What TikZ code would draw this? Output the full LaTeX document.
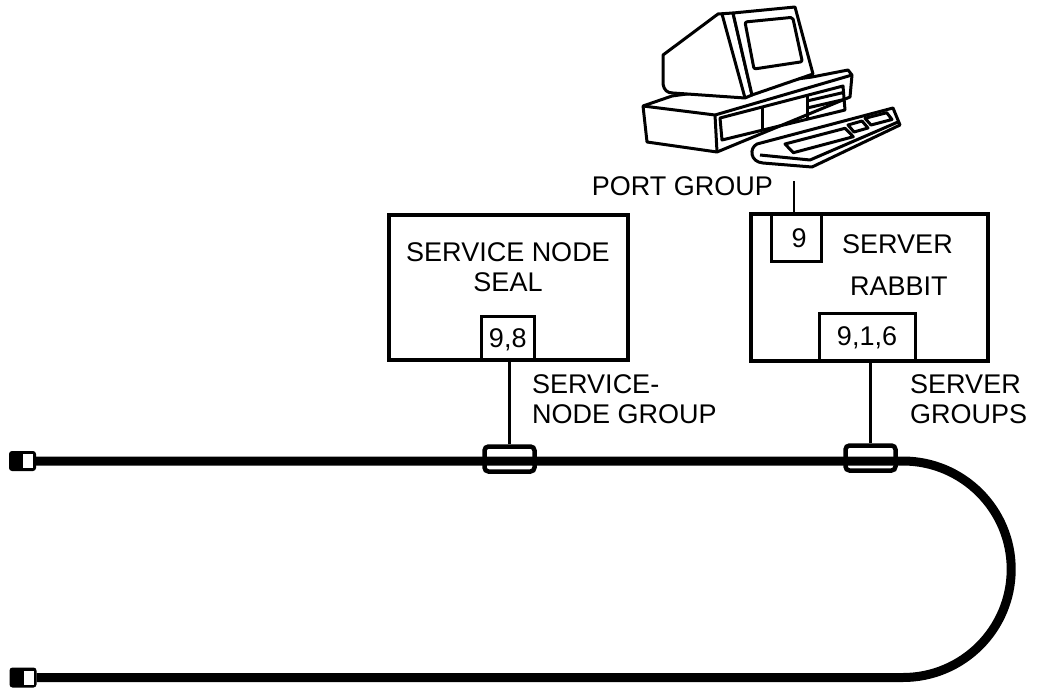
\documentclass[tikz,border=0pt]{standalone}
\usepackage{fontspec}
\setmainfont{Liberation Sans}
\begin{document}
\begin{tikzpicture}[x=1pt,y=-1pt,
  lbl/.style={font=\fontsize{27}{30}\selectfont, inner sep=0pt},
  bigbox/.style={draw, line width=4pt, inner sep=0pt},
  smallbox/.style={draw, line width=3pt, inner sep=0pt},
  wire/.style={line width=2.6pt},
  cable/.style={line width=9pt},
  splice/.style={draw, line width=4.5pt, fill=white, rounded corners=4pt,
    inner sep=0pt, minimum width=50pt, minimum height=25pt},
  plug/.style={fill=black, rounded corners=3pt, inner sep=0pt,
    minimum width=27pt, minimum height=20pt},
  hole/.style={fill=white, inner sep=0pt, minimum width=10pt, minimum height=14pt},
  pc/.style={line width=3pt, line join=round},
]
\useasboundingbox (0,0) rectangle (1040,688);

% ---- workstation ----
% system unit
\draw[pc, fill=white] (643,106) -- (647,142) -- (717,152) -- (850,97) -- (852,75)
  -- (848,70) -- (812,77) -- (672,96) -- cycle;
\draw[pc] (643,106) -- (715,115) -- (852,75);
\draw[pc] (715,115) -- (717,152);
\draw[pc] (720,118) -- (843,86) -- (845,110) -- (722,140) -- cycle;
\draw[pc] (762,107.4) -- (762,130);
\draw[pc] (807,95.7) -- (807,118.7);
\draw[pc] (807,101) -- (843.5,92.5);
\draw[pc] (807,108) -- (844,99.5);
% monitor
\draw[pc, fill=white] (718,14) -- (663,55) -- (663,84)
  .. controls (664,90) and (667,93) .. (673,93) -- (745,98) -- (752,95) -- (733,13) -- cycle;
\draw[pc, fill=white] (733,13) -- (795,7) -- (813,74) -- (752,95) -- cycle;
\draw[pc] (722,14) -- (745,98);
\draw[pc, rounded corners=2pt] (745,22) -- (792.7,17.3) -- (802.3,61.7) -- (754,69) -- cycle;
% keyboard
\draw[pc, fill=white] (757,144) -- (893,108) -- (900,125) -- (812,167) -- (763,163)
  .. controls (750,162) and (749,148) .. (757,144) -- cycle;
\draw[pc] (760,155) -- (810,160) -- (898,122);
\draw[pc] (785,144) -- (845,128.3) -- (853.3,136.7) -- (793.3,152.7) -- cycle;
\draw[pc] (848,125) -- (862,121) -- (868,128) -- (854,132) -- cycle;
\draw[pc] (865,118.3) -- (886.7,112.7) -- (892,119.5) -- (871,125) -- cycle;

% ---- nodes ----
\node[bigbox, minimum width=239.5pt, minimum height=145pt] (seal) at (508.25,287.5) {};
\node[bigbox, minimum width=237.8pt, minimum height=146.5pt] (rabbit) at (869.4,287.25) {};
\node[smallbox, minimum width=52.5pt, minimum height=44pt] (g98) at (507.75,338) {};
\node[smallbox, minimum width=96pt, minimum height=47pt] (g916) at (867,337) {};
\node[smallbox, minimum width=49.5pt, minimum height=47.5pt] (g9) at (796.25,237.75) {};

\node[lbl, anchor=base] (sealA) at (508,261.7) {SERVICE NODE};
\node[lbl, anchor=base] (sealB) at (508,291.7) {SEAL};
\node[lbl, anchor=base west] (rabA) at (842,253) {SERVER};
\node[lbl, anchor=base west] (rabB) at (850,295) {RABBIT};
\node[lbl, anchor=base] at (g98 |- 0,347) {9,8};
\node[lbl, anchor=base] at (867,345) {9,1,6};
\node[lbl, anchor=base] at (799,247) {9};

\node[lbl, anchor=base west] (sngA) at (532,393) {SERVICE-};
\node[lbl, anchor=base west] (sngB) at (532,423) {NODE GROUP};
\node[lbl, anchor=base west] (sgA) at (910,393) {SERVER};
\node[lbl, anchor=base west] (sgB) at (910,423) {GROUPS};
\node[lbl, anchor=base east] (port) at (773,195) {PORT GROUP};

% ---- cable ----
\node[plug] (plugA) at (22.5,461) {};
\node[hole] at (28,461) {};
\node[plug] (plugB) at (23,677.5) {};
\node[hole] at (28.5,677.5) {};
\node[splice] (spA) at (509.5,459) {};
\node[splice] (spB) at (870.5,458) {};
\draw[cable] (plugA.east) -- ++(866.75,0) arc(-90:90:108.25) -- (plugB.east);

% ---- drops ----
\draw[wire] (spA.north) -- (spA.north |- seal.south);
\draw[wire] (spB.north) -- (spB.north |- rabbit.south);
\coordinate (portend) at (794,181);
\draw[wire] (portend) -- (portend |- rabbit.north);
\end{tikzpicture}
\end{document}
